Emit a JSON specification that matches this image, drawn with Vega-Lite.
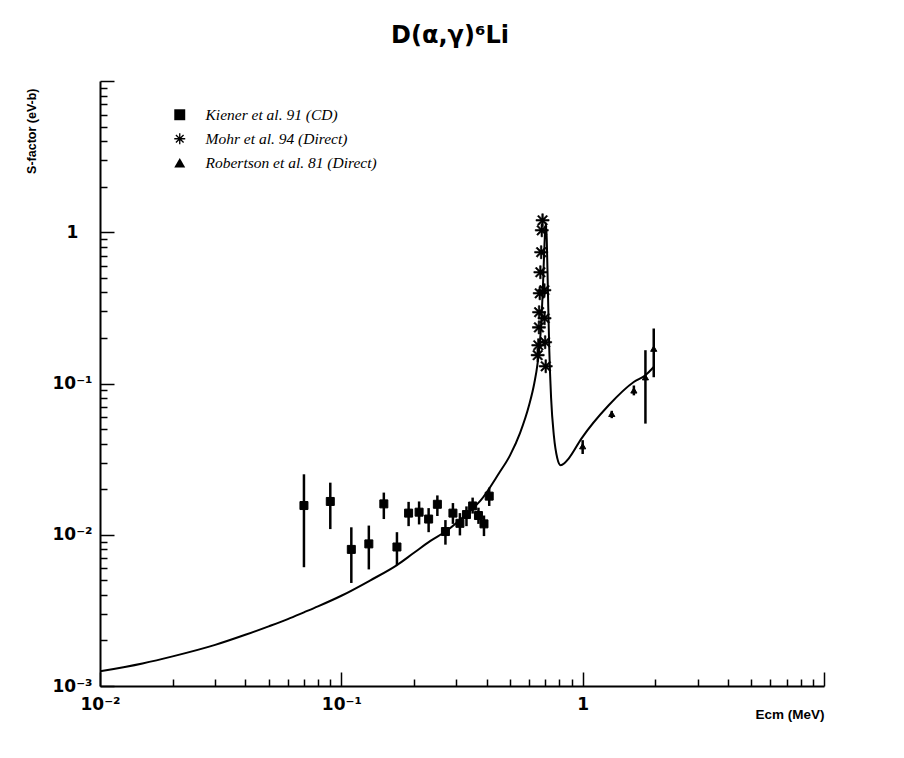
{
  "$schema": "https://vega.github.io/schema/vega-lite/v6.json",
  "autosize": {"type": "none"},
  "width": 724,
  "height": 605,
  "padding": {"left": 100, "top": 81, "right": 80, "bottom": 72},
  "background": "white",
  "title": {
    "text": "D(α,γ)⁶Li",
    "font": "DejaVu Sans",
    "fontSize": 24,
    "fontWeight": "bold",
    "color": "black",
    "anchor": "middle",
    "dx": -12,
    "offset": 24
  },
  "config": {
    "view": {"stroke": null},
    "axis": {
      "grid": false,
      "domainColor": "black",
      "domainWidth": 2,
      "tickColor": "black",
      "tickWidth": 1.5,
      "labelColor": "black",
      "labelFont": "DejaVu Sans",
      "labelFontWeight": "bold",
      "labelFontSize": 17,
      "labelOverlap": false,
      "labelFlush": false,
      "titleColor": "black",
      "titleFont": "Liberation Sans",
      "titleFontWeight": "bold"
    }
  },
  "resolve": {"axis": {"x": "independent", "y": "independent"}},
  "datasets": {
    "curve": [
      {"x": 0.01, "y": 0.00125},
      {"x": 0.015, "y": 0.00141},
      {"x": 0.02, "y": 0.00157},
      {"x": 0.03, "y": 0.00187},
      {"x": 0.04, "y": 0.00218},
      {"x": 0.05, "y": 0.00248},
      {"x": 0.06, "y": 0.00277},
      {"x": 0.07, "y": 0.00307},
      {"x": 0.08, "y": 0.00336},
      {"x": 0.1, "y": 0.00395},
      {"x": 0.132, "y": 0.005},
      {"x": 0.17, "y": 0.0063},
      {"x": 0.2, "y": 0.0076},
      {"x": 0.234, "y": 0.0091},
      {"x": 0.275, "y": 0.0107},
      {"x": 0.332, "y": 0.0138},
      {"x": 0.377, "y": 0.0168},
      {"x": 0.45, "y": 0.0255},
      {"x": 0.5, "y": 0.0335},
      {"x": 0.55, "y": 0.047},
      {"x": 0.6, "y": 0.072},
      {"x": 0.63, "y": 0.1},
      {"x": 0.65, "y": 0.135},
      {"x": 0.67, "y": 0.22},
      {"x": 0.685, "y": 0.45},
      {"x": 0.695, "y": 0.85},
      {"x": 0.703, "y": 1.15},
      {"x": 0.71, "y": 0.9},
      {"x": 0.718, "y": 0.4},
      {"x": 0.727, "y": 0.17},
      {"x": 0.74, "y": 0.08},
      {"x": 0.76, "y": 0.045},
      {"x": 0.785, "y": 0.032},
      {"x": 0.81, "y": 0.0288},
      {"x": 0.84, "y": 0.0297},
      {"x": 0.875, "y": 0.0319},
      {"x": 0.988, "y": 0.0432},
      {"x": 1.282, "y": 0.0718},
      {"x": 1.628, "y": 0.1023},
      {"x": 1.82, "y": 0.1135},
      {"x": 1.97, "y": 0.1285}
    ],
    "points": [
      {"series": "Kiener et al. 91 (CD)", "x": 0.07, "y": 0.0156, "lo": 0.0061, "hi": 0.0251},
      {"series": "Kiener et al. 91 (CD)", "x": 0.09, "y": 0.0166, "lo": 0.0109, "hi": 0.0221},
      {"series": "Kiener et al. 91 (CD)", "x": 0.11, "y": 0.008, "lo": 0.0048, "hi": 0.0112},
      {"series": "Kiener et al. 91 (CD)", "x": 0.13, "y": 0.0087, "lo": 0.0059, "hi": 0.0115},
      {"series": "Kiener et al. 91 (CD)", "x": 0.15, "y": 0.016, "lo": 0.0127, "hi": 0.019},
      {"series": "Kiener et al. 91 (CD)", "x": 0.17, "y": 0.0083, "lo": 0.0063, "hi": 0.0104},
      {"series": "Kiener et al. 91 (CD)", "x": 0.19, "y": 0.0139, "lo": 0.0114, "hi": 0.0165},
      {"series": "Kiener et al. 91 (CD)", "x": 0.21, "y": 0.0141, "lo": 0.0117, "hi": 0.0166},
      {"series": "Kiener et al. 91 (CD)", "x": 0.23, "y": 0.0127, "lo": 0.0104, "hi": 0.015},
      {"series": "Kiener et al. 91 (CD)", "x": 0.25, "y": 0.0159, "lo": 0.0133, "hi": 0.0182},
      {"series": "Kiener et al. 91 (CD)", "x": 0.27, "y": 0.0105, "lo": 0.0086, "hi": 0.0125},
      {"series": "Kiener et al. 91 (CD)", "x": 0.29, "y": 0.0139, "lo": 0.0118, "hi": 0.0162},
      {"series": "Kiener et al. 91 (CD)", "x": 0.31, "y": 0.0119, "lo": 0.0099, "hi": 0.0139},
      {"series": "Kiener et al. 91 (CD)", "x": 0.33, "y": 0.0136, "lo": 0.0114, "hi": 0.0154},
      {"series": "Kiener et al. 91 (CD)", "x": 0.35, "y": 0.0155, "lo": 0.0138, "hi": 0.0176},
      {"series": "Kiener et al. 91 (CD)", "x": 0.37, "y": 0.0134, "lo": 0.0118, "hi": 0.0151},
      {"series": "Kiener et al. 91 (CD)", "x": 0.39, "y": 0.0118, "lo": 0.0098, "hi": 0.0134},
      {"series": "Kiener et al. 91 (CD)", "x": 0.41, "y": 0.018, "lo": 0.0155, "hi": 0.0205},
      {"series": "Mohr et al. 94 (Direct)", "x": 0.651, "y": 0.154},
      {"series": "Mohr et al. 94 (Direct)", "x": 0.655, "y": 0.179},
      {"series": "Mohr et al. 94 (Direct)", "x": 0.659, "y": 0.235},
      {"series": "Mohr et al. 94 (Direct)", "x": 0.66, "y": 0.296},
      {"series": "Mohr et al. 94 (Direct)", "x": 0.664, "y": 0.395},
      {"series": "Mohr et al. 94 (Direct)", "x": 0.668, "y": 0.544},
      {"series": "Mohr et al. 94 (Direct)", "x": 0.673, "y": 0.738},
      {"series": "Mohr et al. 94 (Direct)", "x": 0.677, "y": 1.03},
      {"series": "Mohr et al. 94 (Direct)", "x": 0.682, "y": 1.2},
      {"series": "Mohr et al. 94 (Direct)", "x": 0.694, "y": 0.414},
      {"series": "Mohr et al. 94 (Direct)", "x": 0.695, "y": 0.27},
      {"series": "Mohr et al. 94 (Direct)", "x": 0.699, "y": 0.1875},
      {"series": "Mohr et al. 94 (Direct)", "x": 0.703, "y": 0.13},
      {"series": "Robertson et al. 81 (Direct)", "x": 1.0, "y": 0.0385, "lo": 0.0342, "hi": 0.0422},
      {"series": "Robertson et al. 81 (Direct)", "x": 1.32, "y": 0.063, "lo": 0.059, "hi": 0.066},
      {"series": "Robertson et al. 81 (Direct)", "x": 1.63, "y": 0.09, "lo": 0.0835, "hi": 0.097},
      {"series": "Robertson et al. 81 (Direct)", "x": 1.82, "y": 0.11, "lo": 0.0543, "hi": 0.166},
      {"series": "Robertson et al. 81 (Direct)", "x": 1.97, "y": 0.17, "lo": 0.11, "hi": 0.231}
    ]
  },
  "layer": [
    {
      "data": {"name": "curve"},
      "mark": {"type": "line", "color": "black", "strokeWidth": 2, "interpolate": "monotone", "clip": true},
      "encoding": {
        "x": {
          "field": "x",
          "type": "quantitative",
          "scale": {"type": "log", "domain": [0.01, 10], "nice": false},
          "axis": {
            "orient": "bottom",
            "title": "Ecm (MeV)",
            "titleFontSize": 13.5,
            "titleAnchor": "end",
            "titleAlign": "right",
            "titlePadding": -5,
            "ticks": false,
            "labelPadding": 10,
            "values": [0.01, 0.1, 1, 10],
            "labelExpr": "datum.value == 1 ? '1' : datum.value >= 10 ? '' : '10⁻' + ['','¹','²','³'][round(-log(datum.value)/LN10)]"
          }
        },
        "y": {
          "field": "y",
          "type": "quantitative",
          "scale": {"type": "log", "domain": [0.001, 10], "nice": false},
          "axis": {
            "orient": "left",
            "title": "S-factor (eV-b)",
            "titleFontSize": 12.5,
            "titleAnchor": "end",
            "titleY": 7,
            "titlePadding": 13,
            "ticks": false,
            "labelAlign": "center",
            "labelBaseline": "middle",
            "labelPadding": 28,
            "values": [0.001, 0.01, 0.1, 1, 10],
            "labelExpr": "datum.value == 1 ? '1' : datum.value >= 10 ? '' : '10⁻' + ['','¹','²','³'][round(-log(datum.value)/LN10)]"
          }
        },
        "order": {"field": "x", "type": "quantitative"}
      }
    },
    {
      "data": {"name": "points"},
      "transform": [{"filter": "isValid(datum.lo)"}],
      "mark": {"type": "rule", "color": "black", "strokeWidth": 2.5},
      "encoding": {
        "x": {
          "field": "x",
          "type": "quantitative",
          "scale": {"type": "log", "domain": [0.01, 10], "nice": false},
          "axis": {
            "orient": "top",
            "offset": -605,
            "title": null,
            "labels": false,
            "domain": false,
            "tickSize": 14,
            "values": [0.01, 0.1, 1, 10]
          }
        },
        "y": {
          "field": "lo",
          "type": "quantitative",
          "scale": {"type": "log", "domain": [0.001, 10], "nice": false},
          "axis": {
            "orient": "right",
            "offset": -724,
            "title": null,
            "labels": false,
            "domain": false,
            "tickSize": 14,
            "values": [0.001, 0.01, 0.1, 1, 10]
          }
        },
        "y2": {"field": "hi"}
      }
    },
    {
      "data": {"name": "points"},
      "transform": [{"filter": "datum.series == 'Kiener et al. 91 (CD)'"}],
      "mark": {"type": "point", "filled": true, "color": "black", "stroke": "black", "strokeWidth": 1, "opacity": 1, "size": 64},
      "encoding": {
        "x": {
          "field": "x",
          "type": "quantitative",
          "scale": {"type": "log", "domain": [0.01, 10], "nice": false},
          "axis": {
            "orient": "top",
            "offset": -605,
            "title": null,
            "labels": false,
            "domain": false,
            "tickSize": 7,
            "values": [0.02, 0.03, 0.04, 0.05, 0.06, 0.07, 0.08, 0.09, 0.2, 0.3, 0.4, 0.5, 0.6, 0.7, 0.8, 0.9, 2, 3, 4, 5, 6, 7, 8, 9]
          }
        },
        "y": {
          "field": "y",
          "type": "quantitative",
          "scale": {"type": "log", "domain": [0.001, 10], "nice": false},
          "axis": {
            "orient": "right",
            "offset": -724,
            "title": null,
            "labels": false,
            "domain": false,
            "tickSize": 7,
            "values": [0.002, 0.003, 0.004, 0.005, 0.006, 0.007, 0.008, 0.009, 0.02, 0.03, 0.04, 0.05, 0.06, 0.07, 0.08, 0.09, 0.2, 0.3, 0.4, 0.5, 0.6, 0.7, 0.8, 0.9, 2, 3, 4, 5, 6, 7, 8, 9]
          }
        },
        "shape": {
          "field": "series",
          "type": "nominal",
          "scale": {
            "domain": ["Kiener et al. 91 (CD)", "Mohr et al. 94 (Direct)", "Robertson et al. 81 (Direct)"],
            "range": ["square", "M-1,-0.12L1,-0.12L1,0.12L-1,0.12ZM-0.12,-1L0.12,-1L0.12,1L-0.12,1ZM-0.615,-0.785L0.785,0.615L0.615,0.785L-0.785,-0.615ZM-0.785,0.615L0.615,-0.785L0.785,-0.615L-0.615,0.785Z", "triangle-up"]
          },
          "legend": {
            "title": null,
            "orient": "none",
            "legendX": 72,
            "legendY": 26,
            "symbolSize": 120,
            "symbolFillColor": "black",
            "symbolStrokeColor": "black",
            "symbolStrokeWidth": 1,
            "labelFont": "Liberation Serif",
            "labelFontStyle": "italic",
            "labelFontSize": 15.5,
            "labelColor": "black",
            "labelOffset": 18,
            "rowPadding": 7,
            "labelLimit": 400
          }
        }
      }
    },
    {
      "data": {"name": "points"},
      "transform": [{"filter": "datum.series == 'Mohr et al. 94 (Direct)'"}],
      "mark": {"type": "point", "filled": true, "color": "black", "stroke": "black", "strokeWidth": 0.6, "opacity": 1, "size": 170},
      "encoding": {
        "x": {"field": "x", "type": "quantitative", "scale": {"type": "log", "domain": [0.01, 10], "nice": false}, "axis": null},
        "y": {"field": "y", "type": "quantitative", "scale": {"type": "log", "domain": [0.001, 10], "nice": false}, "axis": null},
        "shape": {"field": "series", "type": "nominal"}
      }
    },
    {
      "data": {"name": "points"},
      "transform": [{"filter": "datum.series == 'Robertson et al. 81 (Direct)'"}],
      "mark": {"type": "point", "filled": true, "color": "black", "stroke": "black", "strokeWidth": 1, "opacity": 1, "size": 38},
      "encoding": {
        "x": {"field": "x", "type": "quantitative", "scale": {"type": "log", "domain": [0.01, 10], "nice": false}, "axis": null},
        "y": {"field": "y", "type": "quantitative", "scale": {"type": "log", "domain": [0.001, 10], "nice": false}, "axis": null},
        "shape": {"field": "series", "type": "nominal"}
      }
    }
  ]
}
